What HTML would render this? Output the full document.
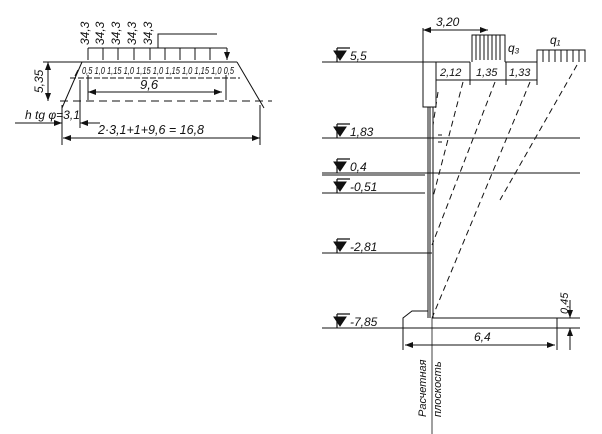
<!DOCTYPE html><html><head><style>body{margin:0;background:#fff}svg{display:block}text{font-family:"Liberation Sans",sans-serif;font-style:italic;fill:#111;stroke:none}</style></head><body>
<svg width="602" height="434" viewBox="0 0 602 434" stroke="#111" fill="none" stroke-width="1">
<defs><marker id="a" markerWidth="8" markerHeight="6" refX="8" refY="3" orient="auto"><path d="M0,0L8,3L0,6z" fill="#111" stroke="none"/></marker>
<g id="m"><path d="M337,-14V0M337,-14H350" stroke-width="1.2"/><path d="M334,-11H346L340,-2Z" fill="#111"/></g></defs>
<!-- left figure -->
<path d="M82,62L237,62M82,62L62,108M237,62L264,108M78,70L75,76"/>
<path d="M60,101L272,101" stroke-dasharray="8,5"/>
<path d="M43,62H82M48,62V101" /><path d="M48,70V62" marker-end="url(#a)"/><path d="M48,92V101" marker-end="url(#a)"/>
<text x="0" y="0" font-size="12" transform="translate(43,93) rotate(-90)">5,35</text>
<path d="M88,48H227M158,48V34H217"/>
<g marker-end="url(#a)"><path d="M88,48V60M103,48V60M118,48V60M134,48V60M150,48V60M165,48V60M180,48V60M195,48V60M210,48V60M227,48V60"/></g>
<g font-size="12"><text transform="translate(89,45) rotate(-90)">34,3</text><text transform="translate(104,45) rotate(-90)">34,3</text><text transform="translate(120,45) rotate(-90)">34,3</text><text transform="translate(136,45) rotate(-90)">34,3</text><text transform="translate(152,45) rotate(-90)">34,3</text></g>
<text x="82" y="74" font-size="10" textLength="152" lengthAdjust="spacingAndGlyphs">0,5 1,0 1,15 1,0 1,15 1,0 1,15 1,0 1,15 1,0 0,5</text>
<path d="M70,78H240" stroke-dasharray="6,2"/>
<path d="M88,75V100M226,75V100"/><path d="M150,92H88" marker-end="url(#a)"/><path d="M150,92H222" marker-end="url(#a)"/>
<text x="140" y="89" font-size="13">9,6</text>
<text x="25" y="119" font-size="12">h tg φ=3,1</text>
<path d="M15,123H62" marker-end="url(#a)"/><path d="M100,123H80" marker-end="url(#a)"/>
<path d="M62,105V145M80,80V128M260,105V145"/>
<path d="M160,138H63" marker-end="url(#a)"/><path d="M160,138H260" marker-end="url(#a)"/>
<text x="98" y="134" font-size="12.5">2·3,1+1+9,6 = 16,8</text>
<!-- right figure -->
<path d="M322,62H470M505,62H537M322,138H580M322,173H580M322,175H425M322,193H425M322,253H432M322,328H403"/>
<use href="#m" y="62"/><use href="#m" y="138"/><use href="#m" y="173"/><use href="#m" y="193"/><use href="#m" y="253"/><use href="#m" y="328"/>
<g font-size="12"><text x="350" y="60">5,5</text><text x="350" y="136">1,83</text><text x="350" y="171">0,4</text><text x="350" y="191">-0,51</text><text x="350" y="251">-2,81</text><text x="350" y="326">-7,85</text></g>
<rect x="423" y="62" width="13" height="45"/>
<path d="M428,107V318M433,107V318M430,107V318" stroke-width="1"/>
<path d="M432,318H557V328H403V318L412,311H428"/>
<path d="M432,318V434" stroke-width="0.8"/>
<path d="M438,135h4M438,142h4"/>
<path d="M423,28V62M455,30H423" marker-end="url(#a)"/><path d="M455,30H488" marker-end="url(#a)"/>
<text x="436" y="26" font-size="12">3,20</text>
<path d="M472,62V35H505V62M476,35V60M480,35V60M484,35V60M488,35V60M492,35V60M496,35V60M500,35V60"/>
<text x="508" y="52" font-size="12">q₃</text>
<path d="M537,62V50H585V62M543,50V62M549,50V62M555,50V62M561,50V62M567,50V62M573,50V62M579,50V62"/>
<text x="550" y="44" font-size="12">q₁</text>
<path d="M436,62V84M470,62V85M506,62V85M537,62V85"/>
<path d="M436,80H470M470,80H506M506,80H537"/>
<g font-size="11"><text x="440" y="76">2,12</text><text x="476" y="76">1,35</text><text x="509" y="76">1,33</text></g>
<g stroke-dasharray="6,4"><path d="M438,92L433,125M463,82L433,197M495,82L432,245M530,82L432,318M577,65L500,200"/></g>
<path d="M403,328V350M557,328V350"/><path d="M490,345H405" marker-end="url(#a)"/><path d="M490,345H555" marker-end="url(#a)"/>
<text x="474" y="341" font-size="12">6,4</text>
<path d="M557,318H580M557,328H580M570,300V318M570,350V328"/><path d="M570,305V318" marker-end="url(#a)"/><path d="M570,342V328" marker-end="url(#a)"/>
<text transform="translate(568,314) rotate(-90)" font-size="11">0,45</text>
<text transform="translate(426,417) rotate(-90)" font-size="11">Расчетная</text>
<text transform="translate(441,417) rotate(-90)" font-size="11">плоскость</text>
</svg></body></html>
